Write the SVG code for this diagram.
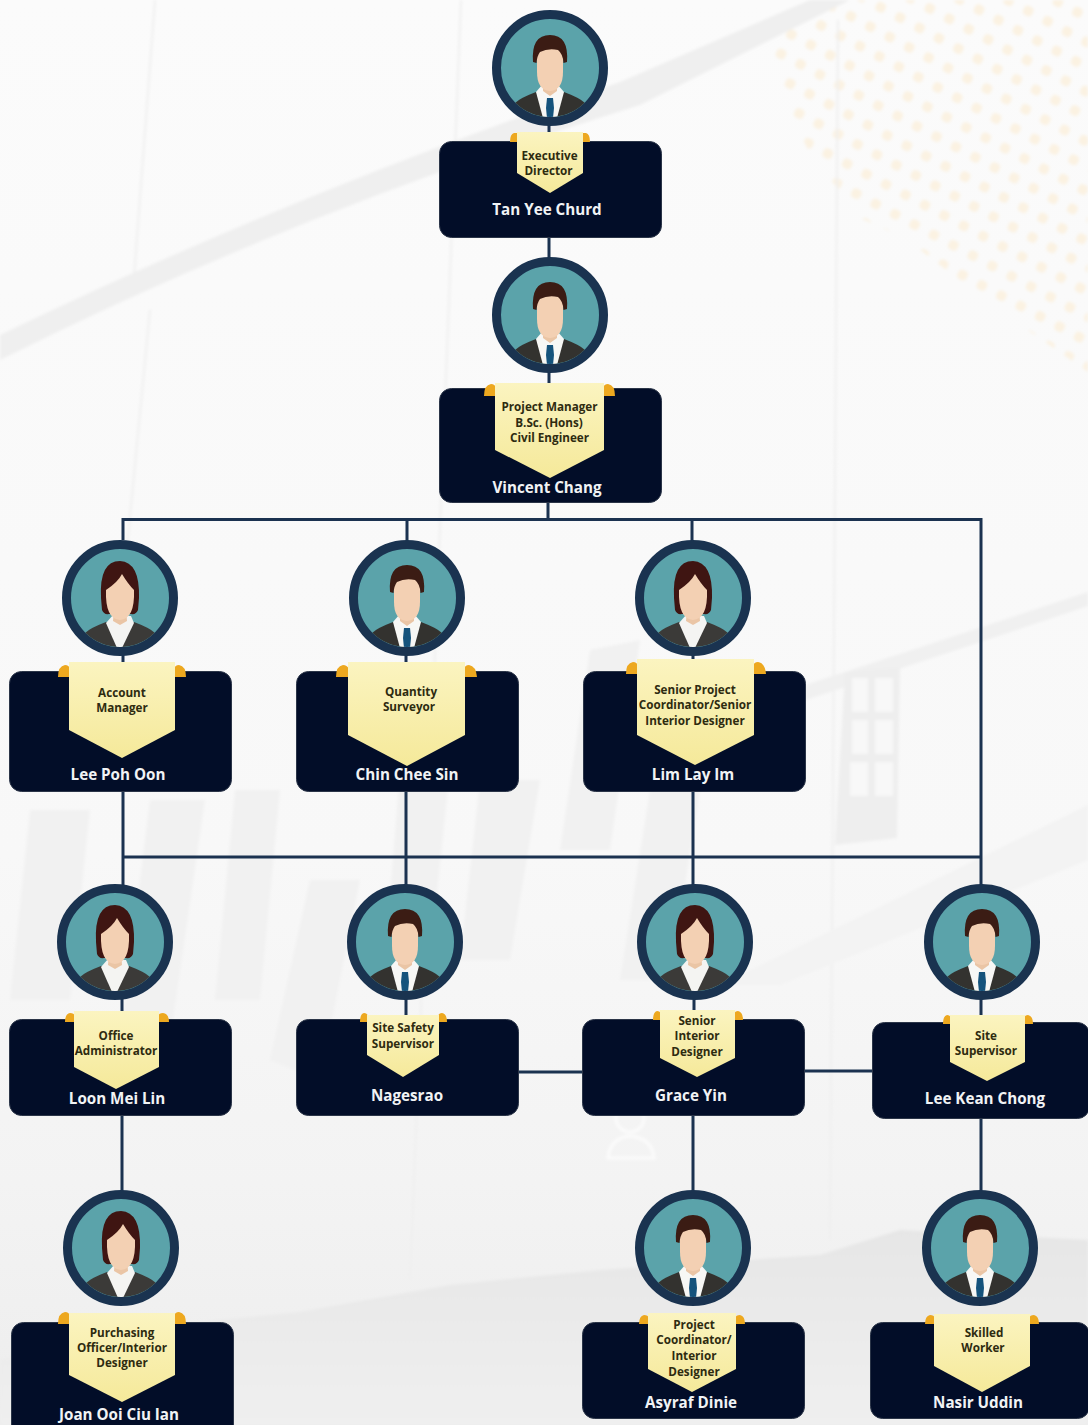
<svg xmlns="http://www.w3.org/2000/svg" width="1088" height="1425" viewBox="0 0 1088 1425">
<style>
.box{fill:#020d28;stroke:#2b3548;stroke-width:1}
.ban{fill:url(#ban)}
.tab{fill:#eda81f}
.ttl{font-family:"Open Sans",sans-serif;font-weight:700;font-size:11.7px;fill:#2e2b10;text-anchor:middle}
.nam{font-family:"Open Sans",sans-serif;font-weight:700;font-size:15.2px;fill:#f1f3f5;text-anchor:middle}
.con{fill:none;stroke:#1b3250;stroke-width:3}
.wm{fill:#f1f1f1}
.ln{stroke:#efefef;stroke-width:2;fill:none}
</style>
<defs>
<linearGradient id="bg" x1="0" y1="0" x2="0" y2="1"><stop offset="0" stop-color="#fbfbfb"/><stop offset="0.6" stop-color="#f8f8f8"/><stop offset="0.83" stop-color="#f3f3f3"/><stop offset="1" stop-color="#ededed"/></linearGradient>
<linearGradient id="ban" x1="0" y1="0" x2="0" y2="1"><stop offset="0" stop-color="#fbf4c0"/><stop offset="1" stop-color="#f5e99a"/></linearGradient>
<linearGradient id="sky" x1="0" y1="0" x2="0" y2="1"><stop offset="0" stop-color="#e6e6e6"/><stop offset="1" stop-color="#efefef"/></linearGradient>
<pattern id="dots" width="22" height="22" patternUnits="userSpaceOnUse" patternTransform="rotate(28)"><rect x="6" y="6" width="10" height="10" rx="4" fill="#fbf2e2"/></pattern>
<filter id="soft" x="-5%" y="-5%" width="110%" height="110%"><feGaussianBlur stdDeviation="1.6"/></filter>
<clipPath id="av"><circle r="49"/></clipPath>
<g id="man">
<circle r="53.5" fill="#5ba3aa" stroke="#1a3350" stroke-width="9"/>
<g clip-path="url(#av)">
<path d="M-37 50 L-35 35 Q-30 30 -14 24 L14 24 Q30 30 35 35 L37 50Z" fill="#33322f"/>
<path d="M-14 24 L-8 17 L8 17 L14 24 L7 50 L-7 50Z" fill="#f7f7f5"/>
<path d="M-3 30 L3 30 L4 40 L3 50 L-3 50 L-4 40Z" fill="#15537c"/>
<path d="M-7 12 L7 12 L7 23 L0 28 L-7 23Z" fill="#eac5a5"/>
<path d="M-13 -24 L13 -24 L13 4 Q13 22 0 23 Q-13 22 -13 4Z" fill="#f3d0b3"/>
<path d="M-17 -6 Q-19 -33 0 -33 Q19 -33 17 -6 L13.500 -5 Q13 -14 8 -18 Q-2 -20 -10 -16 Q-13 -12 -13.500 -5Z" fill="#3b1c14"/>
</g>
</g>
<g id="woman">
<circle r="53.5" fill="#5ba3aa" stroke="#1a3350" stroke-width="9"/>
<g clip-path="url(#av)">
<path d="M-37 50 L-35 35 Q-30 30 -14 24 L14 24 Q30 30 35 35 L37 50Z" fill="#3b3a38"/>
<path d="M-14 25 L-7 17 L11 18 L14 25 L2 50 L-3 50Z" fill="#f4f4f2"/>
<path d="M-19 0 Q-21 -37 0 -37 Q20 -36 19 0 L18 12 Q16 17 11 16 L-11 16 Q-16 17 -18 12Z" fill="#3f1512"/>
<path d="M-6 12 L6 12 L7 23 L0 27 L-7 23Z" fill="#eac5a5"/>
<path d="M-14 -8 Q-15 21 0 22 Q15 21 14 -8 Q8 -14 2 -24 Q-2 -16 -14 -8Z" fill="#f3d0b3"/>
</g>
</g>
</defs>

<g id="background">
<rect width="1088" height="1425" fill="url(#bg)"/>
<g filter="url(#soft)">
<path d="M766 16 L830 0 L1088 0 L1088 372 L985 300 L905 238 L860 218 L808 150 L780 90Z" fill="url(#dots)"/>
<path d="M0 360 Q300 210 640 105 L850 0 L810 0 L620 82 Q300 190 0 335Z" fill="#efefef"/>
<path class="ln" d="M155 0 L133 290 M461 0 L410 1280 M838 20 L830 1240 M150 310 L118 640"/>
<path d="M790 690 L1088 592 L1088 606 L800 702Z" fill="#f0f0f0"/>
<path d="M720 985 L1088 805 L1088 860 L780 985Z" fill="#f3f3f3"/>
<path class="wm" d="M30 810 L90 810 L70 1000 L10 1000Z M150 800 L205 800 L170 1040 L120 1040Z M235 790 L280 790 L260 1000 L215 1000Z M310 880 L360 880 L320 1080 L270 1060Z M400 770 L450 770 L430 960 L385 960Z M480 780 L540 780 L510 960 L460 960Z M590 650 L640 640 L610 850 L560 850Z M650 790 L700 790 L670 980 L620 980Z"/>
<path d="M845 672 L900 668 L897 838 L835 845Z" fill="#eeeeee"/>
<path d="M852 678 H868 V712 H852Z M875 678 H893 V712 H875Z M852 720 H868 V754 H852Z M875 720 H893 V754 H875Z M850 762 H868 V796 H850Z M875 762 H893 V796 H875Z" fill="#f8f8f8"/>
<path d="M0 1360 L120 1330 L300 1312 L450 1285 L600 1270 L820 1255 L900 1230 L1088 1240 L1088 1425 L0 1425Z" fill="url(#sky)"/>
<circle cx="630" cy="1118" r="14" fill="none" stroke="#ffffff" stroke-width="3" opacity=".7"/>
<path d="M608 1158 Q610 1138 630 1136 Q652 1138 654 1158 H608Z" fill="none" stroke="#ffffff" stroke-width="3" opacity=".7"/>
</g>
</g>

<g id="connectors">
<path class="con" d="M549 120 V140 M549 236 V262 M549 370 V392 M548 500 V521"/>
<path class="con" d="M123 540 V519.500 H981 V890 M407 519 V545 M692 519 V545"/>
<path class="con" d="M123 650 V675 M406 650 V675 M693 650 V675"/>
<path class="con" d="M123 790 V890 M406 790 V890 M693 790 V890 M123 857 H981"/>
<path class="con" d="M122 995 V1022 M406 995 V1022 M694 995 V1022 M981 995 V1025"/>
<path class="con" d="M517 1072 H584 M803 1071 H873"/>
<path class="con" d="M122 1115 V1195 M693 1115 V1195 M981 1118 V1195"/>
</g>

<g id="n-tan-yee-churd">
<rect class="box" x="439.500" y="141.500" width="222" height="96" rx="12"/>
<use href="#man" x="550" y="68"/>
<path class="tab" d="M510 142 Q510 134 514 133 L518 133 V142Z M582 133 L586 133 Q590 134 590 142 H582Z"/>
<polygon class="ban" points="517,132 583,132 583,173 550,193 517,173"/>
<text class="ttl" x="549.500" y="160">Executive</text>
<text class="ttl" x="548.500" y="175">Director</text>
<text class="nam" x="547" y="215">Tan Yee Churd</text>
</g>

<g id="n-vincent-chang">
<rect class="box" x="439.500" y="388.500" width="222" height="114" rx="12"/>
<use href="#man" x="550" y="315"/>
<path class="tab" d="M484 396 Q484 385 491 384 Q495 384 496 388 V396Z M603 388 Q604 384 608 384 Q615 385 615 396 H603Z"/>
<polygon class="ban" points="495,383 604,383 604,450 550,478 495,450"/>
<text class="ttl" x="549.500" y="411">Project Manager</text>
<text class="ttl" x="549" y="426.500">B.Sc. (Hons)</text>
<text class="ttl" x="549.500" y="442">Civil Engineer</text>
<text class="nam" x="547" y="493">Vincent Chang</text>
</g>

<g id="n-lee-poh-oon">
<rect class="box" x="9.500" y="671.500" width="222" height="120" rx="12"/>
<use href="#woman" x="120" y="598"/>
<path class="tab" d="M58 677 Q58 666 65 665 Q69 665 70 669 V677Z M174 669 Q175 665 179 665 Q186 666 186 677 H174Z"/>
<polygon class="ban" points="69,662 175,662 175,730 122,758 69,730"/>
<text class="ttl" x="122" y="697">Account</text>
<text class="ttl" x="122" y="712">Manager</text>
<text class="nam" x="118" y="780">Lee Poh Oon</text>
</g>

<g id="n-chin-chee-sin">
<rect class="box" x="296.500" y="671.500" width="222" height="120" rx="12"/>
<use href="#man" x="407" y="598"/>
<path class="tab" d="M336 677 Q336 666 343 665 Q347 665 349 669 V677Z M464 669 Q465 665 469 665 Q476 666 477 677 H464Z"/>
<polygon class="ban" points="348,662 465,662 465,735 407,766 348,735"/>
<text class="ttl" x="411" y="696">Quantity</text>
<text class="ttl" x="409" y="711">Surveyor</text>
<text class="nam" x="407" y="780">Chin Chee Sin</text>
</g>

<g id="n-lim-lay-im">
<rect class="box" x="583.500" y="671.500" width="222" height="120" rx="12"/>
<use href="#woman" x="693" y="598"/>
<path class="tab" d="M626 674 Q626 663 633 662 Q637 662 638 666 V674Z M753 666 Q754 662 758 662 Q765 663 766 674 H753Z"/>
<polygon class="ban" points="637,659 754,659 754,735 695,765 637,735"/>
<text class="ttl" x="695" y="694">Senior Project</text>
<text class="ttl" x="695" y="709">Coordinator/Senior</text>
<text class="ttl" x="695" y="725">Interior Designer</text>
<text class="nam" x="693" y="780">Lim Lay Im</text>
</g>

<g id="n-loon-mei-lin">
<rect class="box" x="9.500" y="1019.500" width="222" height="96" rx="12"/>
<use href="#woman" x="115" y="942"/>
<path class="tab" d="M65 1022 Q65 1014 70 1013 Q74 1013 75 1016 V1022Z M158 1016 Q159 1013 163 1013 Q169 1014 169 1022 H158Z"/>
<polygon class="ban" points="74,1011 159,1011 159,1067 116,1089 74,1067"/>
<text class="ttl" x="116" y="1040">Office</text>
<text class="ttl" x="116" y="1055">Administrator</text>
<text class="nam" x="117" y="1104">Loon Mei Lin</text>
</g>

<g id="n-nagesrao">
<rect class="box" x="296.500" y="1019.500" width="222" height="96" rx="12"/>
<use href="#man" x="405" y="942"/>
<path class="tab" d="M360 1022 Q360 1014 364 1013 Q367 1013 368 1016 V1022Z M438 1016 Q439 1013 442 1013 Q447 1014 447 1022 H438Z"/>
<polygon class="ban" points="367,1015 439,1015 439,1055 403,1077 367,1055"/>
<text class="ttl" x="403" y="1032">Site Safety</text>
<text class="ttl" x="403" y="1048">Supervisor</text>
<text class="nam" x="407" y="1101">Nagesrao</text>
</g>

<g id="n-grace-yin">
<rect class="box" x="582.500" y="1019.500" width="222" height="96" rx="12"/>
<use href="#woman" x="695" y="942"/>
<path class="tab" d="M653 1020 Q653 1012 657 1011 Q660 1011 661 1014 V1020Z M734 1014 Q735 1011 738 1011 Q743 1012 743 1020 H734Z"/>
<polygon class="ban" points="660,1010 735,1010 735,1058 697,1077 660,1058"/>
<text class="ttl" x="697" y="1025">Senior</text>
<text class="ttl" x="697" y="1040">Interior</text>
<text class="ttl" x="697" y="1056">Designer</text>
<text class="nam" x="691" y="1101">Grace Yin</text>
</g>

<g id="n-lee-kean-chong">
<rect class="box" x="872.500" y="1022.500" width="217" height="96" rx="12"/>
<use href="#man" x="982" y="942"/>
<path class="tab" d="M943 1024 Q943 1016 947 1015 Q950 1015 951 1018 V1024Z M1024 1018 Q1025 1015 1028 1015 Q1033 1016 1033 1024 H1024Z"/>
<polygon class="ban" points="950,1015 1025,1015 1025,1062 987,1081 950,1062"/>
<text class="ttl" x="986" y="1040">Site</text>
<text class="ttl" x="986" y="1055">Supervisor</text>
<text class="nam" x="985" y="1104">Lee Kean Chong</text>
</g>

<g id="n-joan-ooi-ciu-lan">
<rect class="box" x="11.500" y="1322.500" width="222" height="115" rx="12"/>
<use href="#woman" x="121" y="1248"/>
<path class="tab" d="M58 1324 Q58 1313 65 1312 Q69 1312 70 1316 V1324Z M174 1316 Q175 1312 179 1312 Q186 1313 186 1324 H174Z"/>
<polygon class="ban" points="69,1313 175,1313 175,1375 122,1402 69,1375"/>
<text class="ttl" x="122" y="1337">Purchasing</text>
<text class="ttl" x="122" y="1352">Officer/Interior</text>
<text class="ttl" x="122" y="1367">Designer</text>
<text class="nam" x="119" y="1420">Joan Ooi Ciu Ian</text>
</g>

<g id="n-asyraf-dinie">
<rect class="box" x="582.500" y="1322.500" width="222" height="96" rx="12"/>
<use href="#man" x="693" y="1248"/>
<path class="tab" d="M639 1324 Q639 1316 644 1315 Q648 1315 649 1318 V1324Z M735 1318 Q736 1315 740 1315 Q745 1316 745 1324 H735Z"/>
<polygon class="ban" points="648,1313 736,1313 736,1369 692,1392 648,1369"/>
<text class="ttl" x="694" y="1329">Project</text>
<text class="ttl" x="694" y="1344">Coordinator/</text>
<text class="ttl" x="694" y="1360">Interior</text>
<text class="ttl" x="694" y="1376">Designer</text>
<text class="nam" x="691" y="1408">Asyraf Dinie</text>
</g>

<g id="n-nasir-uddin">
<rect class="box" x="870.500" y="1322.500" width="219" height="96" rx="12"/>
<use href="#man" x="980" y="1248"/>
<path class="tab" d="M925 1324 Q925 1316 930 1315 Q934 1315 935 1318 V1324Z M1029 1318 Q1030 1315 1034 1315 Q1039 1316 1039 1324 H1029Z"/>
<polygon class="ban" points="934,1314 1030,1314 1030,1366 982,1392 934,1366"/>
<text class="ttl" x="984" y="1337">Skilled</text>
<text class="ttl" x="983" y="1352">Worker</text>
<text class="nam" x="978" y="1408">Nasir Uddin</text>
</g>
</svg>
